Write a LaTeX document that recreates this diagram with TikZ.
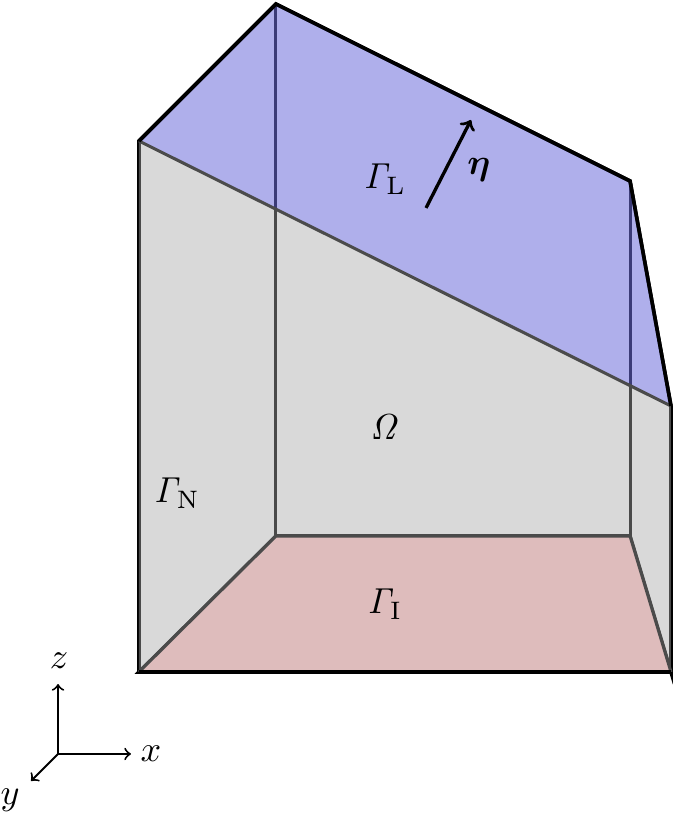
\documentclass[tikz,border=0pt]{standalone}
\usepackage{amsmath}
\usepackage{amssymb}
\usepackage{xcolor}
\definecolor{frontgray}{RGB}{169,169,169}
\definecolor{topblue}{RGB}{109,109,218}
\definecolor{floorpink}{RGB}{222,188,188}
\definecolor{edgegray}{RGB}{75,75,75}
\tikzset{frame/.style={draw=black,line width=1.3pt},
 innerline/.style={draw=black,line width=1.1pt},
 floorline/.style={draw=edgegray,line width=1.1pt},
 axis/.style={->,line width=.7pt},
 label/.style={inner sep=0pt,scale=1.3},
}
\begin{document}
\begin{tikzpicture}
        \useasboundingbox (0, 0) rectangle (8.526, 10.31);
        \coordinate (fbl) at (1.758, 1.809);
        \coordinate (ftl) at (1.758, 8.526);
        \coordinate (fbr) at (8.488, 1.809);
        \coordinate (ftr) at (8.488, 5.174);
        \coordinate (bbl) at (3.491, 3.529);
        \coordinate (btl) at (3.491, 10.259);
        \coordinate (bbr) at (7.970, 3.529);
        \coordinate (btr) at (7.970, 8.020);
        % black edges go first, the faces sit on top of them
        \draw[frame] (fbl) -- (ftl) -- (btl) -- (btr) -- (ftr) -- (fbr) -- (bbr) -- (bbl) -- (fbl) -- (fbr);
        \draw[innerline] (btl) -- (bbl);
        \draw[innerline] (btr) -- (bbr);
        \fill[frontgray, opacity=.443] (fbl) -- (ftl) -- (ftr) -- (fbr) -- cycle;
        \fill[topblue, opacity=.55] (ftl) -- (btl) -- (btr) -- (ftr) -- cycle;
        \fill[floorpink] (fbl) -- (bbl) -- (bbr) -- (fbr) -- cycle;
        \draw[floorline] (fbl) -- (bbl) -- (bbr) -- (fbr);
        \draw[floorline] (ftl) -- (ftr);
        \draw[black, line width=1.1pt] (fbl) -- (fbr);
        \draw[frame] (ftl) -- (btl) -- (btr) -- (ftr);
        \node[label] (gammaL) at (4.870, 8.045) {$\mathit{\Gamma}_{\mathrm{L}}$};
        \node[label] (omega) at (4.870, 4.908) {$\mathit{\Omega}$};
        \node[label] (gammaN) at (2.239, 4.073) {$\mathit{\Gamma}_{\mathrm{N}}$};
        \node[label] (gammaI) at (4.870, 2.669) {$\mathit{\Gamma}_{\mathrm{I}}$};
        \coordinate (etaA) at (5.389, 7.679);
        \coordinate (etaB) at (5.958, 8.792);
        \draw[->, line width=1.2pt] (etaA) -- (etaB);
        \node[label] (eta) at (6.059, 8.159) {$\boldsymbol{\eta}$};
        % axes
        \coordinate (origin) at (.734, .772);
        \coordinate (zend) at (.734, 1.657);
        \coordinate (xend) at (1.657, .772);
        \coordinate (yend) at (.392, .430);
        \draw[axis] (origin) -- (zend);
        \draw[axis] (origin) -- (xend);
        \draw[axis] (origin) -- (yend);
        \node[label] (zlabel) at (.746, 1.948) {$z$};
        \node[label] (xlabel) at (1.910, .772) {$x$};
        \node[label] (ylabel) at (.127, .190) {$y$};
    \end{tikzpicture}
\end{document}
